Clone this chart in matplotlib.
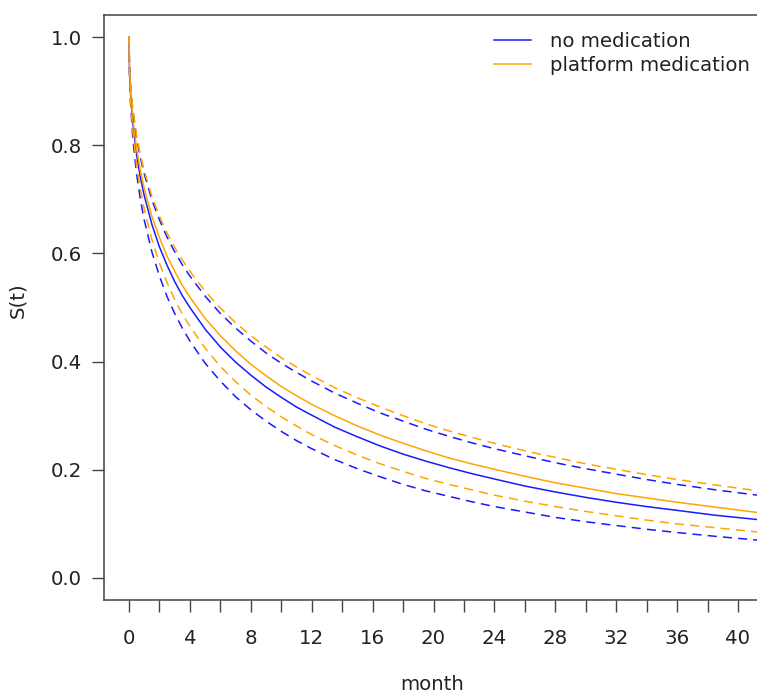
import matplotlib
matplotlib.use("Agg")
import matplotlib.pyplot as plt

# months
t = [0, 0.03, 0.1, 0.25, 0.5, 0.75, 1, 1.5, 2, 2.5, 3, 3.5, 4, 5, 6, 7, 8, 9, 10, 11, 12,
     13.5, 15, 16.5, 18, 19.5, 21, 22.5, 24, 26, 28, 30, 32, 34, 36, 38.5, 41.3]

# no medication
s_none = [1.000, 0.942, 0.896, 0.841, 0.782, 0.740, 0.707, 0.654, 0.612, 0.578, 0.548, 0.522,
          0.500, 0.460, 0.427, 0.399, 0.375, 0.353, 0.334, 0.316, 0.301, 0.279, 0.261, 0.244,
          0.229, 0.216, 0.204, 0.193, 0.183, 0.170, 0.159, 0.149, 0.140, 0.132, 0.125, 0.116,
          0.108]
s_none_hi = [1.000, 0.951, 0.912, 0.864, 0.813, 0.777, 0.747, 0.699, 0.662, 0.630, 0.603, 0.579,
             0.558, 0.521, 0.489, 0.462, 0.438, 0.416, 0.397, 0.380, 0.364, 0.342, 0.323, 0.305,
             0.290, 0.275, 0.262, 0.250, 0.239, 0.226, 0.213, 0.202, 0.192, 0.182, 0.173, 0.163,
             0.153]
s_none_lo = [1.000, 0.931, 0.878, 0.813, 0.747, 0.699, 0.662, 0.603, 0.558, 0.520, 0.489, 0.462,
             0.438, 0.397, 0.364, 0.335, 0.311, 0.290, 0.271, 0.254, 0.239, 0.219, 0.202, 0.187,
             0.173, 0.161, 0.151, 0.141, 0.132, 0.122, 0.112, 0.104, 0.097, 0.090, 0.084, 0.077,
             0.070]

# platform medication
s_plat = [1.000, 0.945, 0.901, 0.849, 0.793, 0.753, 0.720, 0.669, 0.629, 0.595, 0.567, 0.541,
          0.519, 0.480, 0.448, 0.420, 0.395, 0.374, 0.354, 0.337, 0.321, 0.300, 0.281, 0.264,
          0.249, 0.235, 0.222, 0.211, 0.201, 0.188, 0.176, 0.166, 0.156, 0.148, 0.140, 0.131,
          0.121]
s_plat_hi = [1.000, 0.952, 0.914, 0.868, 0.818, 0.782, 0.753, 0.706, 0.669, 0.638, 0.611, 0.588,
             0.567, 0.530, 0.499, 0.472, 0.448, 0.427, 0.407, 0.390, 0.374, 0.352, 0.333, 0.316,
             0.300, 0.285, 0.272, 0.260, 0.249, 0.235, 0.223, 0.211, 0.201, 0.191, 0.182, 0.172,
             0.161]
s_plat_lo = [1.000, 0.936, 0.886, 0.826, 0.763, 0.718, 0.682, 0.626, 0.582, 0.546, 0.515, 0.488,
             0.465, 0.425, 0.391, 0.363, 0.338, 0.317, 0.298, 0.281, 0.265, 0.245, 0.227, 0.211,
             0.197, 0.184, 0.173, 0.163, 0.153, 0.142, 0.132, 0.123, 0.115, 0.107, 0.100, 0.093,
             0.085]

labels = ["no medication", "platform medication"]
x_ticks = list(range(0, 44, 2))
x_labels = [str(v) if v % 4 == 0 else "" for v in x_ticks]
y_ticks = [0.0, 0.2, 0.4, 0.6, 0.8, 1.0]

W, H = 757, 695
fig = plt.figure(figsize=(W / 100, H / 100), dpi=100)
left_px, right_px, top_px, bot_px = 104, 780, 15, 600
ax = fig.add_axes([left_px / W, 1 - bot_px / H, (right_px - left_px) / W, (bot_px - top_px) / H])

c_blue = "#1a1aff"
c_orange = "#ffa500"
lw = 1.1
dash = (6, 4)

ax.plot(t, s_none, color=c_blue, lw=lw, label=labels[0])
ax.plot(t, s_plat, color=c_orange, lw=lw, label=labels[1])
ax.plot(t, s_none_hi, color=c_blue, lw=lw, dashes=dash)
ax.plot(t, s_none_lo, color=c_blue, lw=lw, dashes=dash)
ax.plot(t, s_plat_hi, color=c_orange, lw=lw, dashes=dash)
ax.plot(t, s_plat_lo, color=c_orange, lw=lw, dashes=dash)

px_per_month = 15.225
ax.set_xlim(-(129 - left_px) / px_per_month, (right_px - 129) / px_per_month)
ax.set_ylim(-0.0407, 1.0407)

ax.set_xticks(x_ticks)
ax.set_xticklabels(x_labels)
ax.set_yticks(y_ticks)
ax.set_yticklabels([f"{v:.1f}" for v in y_ticks])

fs = 14.2
tc = "#222222"
ax.tick_params(axis="x", length=8.6, width=1.0, color="#444444", pad=12,
               labelsize=fs, labelcolor=tc, direction="out")
ax.tick_params(axis="y", length=8.6, width=1.0, color="#444444", pad=7.5,
               labelsize=fs, labelcolor=tc, direction="out")
for sp in ax.spines.values():
    sp.set_color("#444444")
    sp.set_linewidth(1.1)

fig.text(432 / W, 1 - 685 / H, "month", ha="center", va="center", fontsize=fs, color=tc)
fig.text(18 / W, 1 - 300 / H, "S(t)", ha="center", va="center", rotation=90,
         fontsize=fs, color=tc)

leg = ax.legend(frameon=False, loc="upper left",
                bbox_to_anchor=(488 / W, 1 - 26 / H), bbox_transform=fig.transFigure,
                fontsize=fs, handlelength=1.9, handletextpad=0.95, labelspacing=0.25,
                borderaxespad=0, borderpad=0.3)
for txt in leg.get_texts():
    txt.set_color(tc)

fig.savefig("out.png", dpi=100)
